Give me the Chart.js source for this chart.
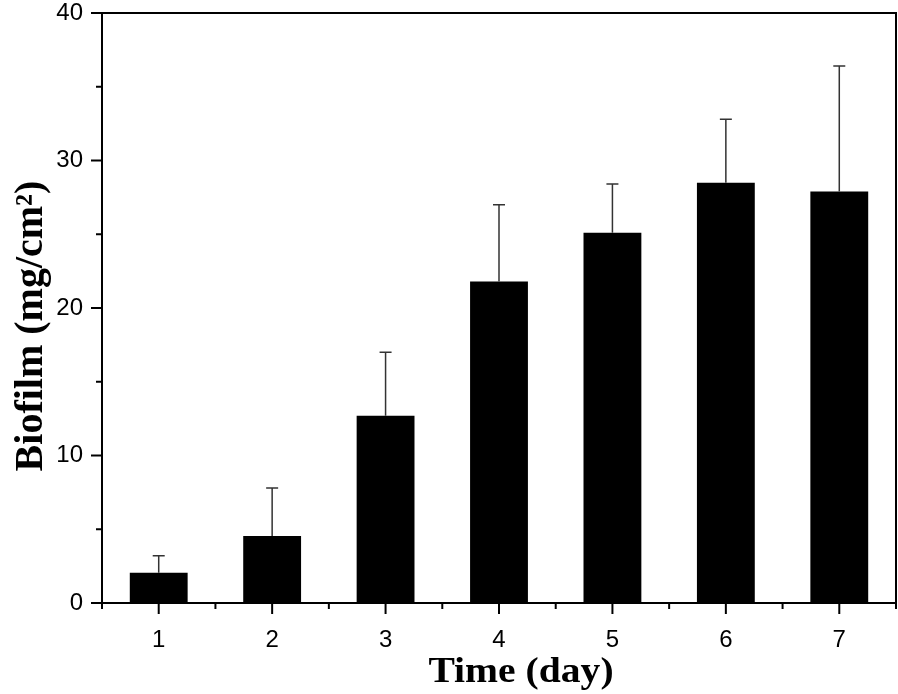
<!DOCTYPE html>
<html lang="en">

<head>
    <meta charset="UTF-8">
    <title>Biofilm</title>
    <style>
        body {
            margin: 0;
            background: #fff;
        }
    </style>
</head>

<body>
    <canvas id="myChart" width="898" height="694"></canvas>
    <script src="https://cdn.jsdelivr.net/npm/chart.js@4/dist/chart.umd.min.js"></script>
    <script>
        // data
        const days = ["1", "2", "3", "4", "5", "6", "7"];
        const biofilm = [2.05, 4.55, 12.7, 21.8, 25.1, 28.5, 27.9];
        const errTop = [3.2, 7.8, 17.0, 27.0, 28.4, 32.8, 36.4];
        const yTicks = [0, 10, 20, 30, 40];
        const xTitle = "Time (day)";
        const yTitle = "Biofilm (mg/cm²)";

        const serif = "'Liberation Serif', 'Times New Roman', serif";

        // error bars, box frame, tick marks and axis titles
        const extras = {
            id: "extras",
            afterDatasetsDraw(chart) {
                const ctx = chart.ctx;
                const x = chart.scales.x;
                const y = chart.scales.y;
                const a = chart.chartArea;
                ctx.save();

                // error bars (upper only)
                ctx.strokeStyle = "#333";
                ctx.lineWidth = 1.5;
                days.forEach((d, i) => {
                    const px = x.getPixelForValue(i);
                    const y0 = y.getPixelForValue(biofilm[i]);
                    const y1 = y.getPixelForValue(errTop[i]);
                    ctx.beginPath();
                    ctx.moveTo(px, y0);
                    ctx.lineTo(px, y1);
                    ctx.moveTo(px - 6, y1);
                    ctx.lineTo(px + 6, y1);
                    ctx.stroke();
                });

                // frame
                ctx.strokeStyle = "#000";
                ctx.lineWidth = 2;
                ctx.strokeRect(a.left, a.top, a.right - a.left, a.bottom - a.top);

                // y ticks
                for (let v = 0; v <= 40; v += 5) {
                    const py = y.getPixelForValue(v);
                    const len = v % 10 === 0 ? 11 : 6;
                    ctx.beginPath();
                    ctx.moveTo(a.left - len, py);
                    ctx.lineTo(a.left, py);
                    ctx.stroke();
                }
                // x ticks
                for (let i = -0.5; i <= days.length - 0.5; i += 0.5) {
                    const px = x.getPixelForValue(i);
                    const len = Number.isInteger(i) ? 11 : 6;
                    ctx.beginPath();
                    ctx.moveTo(px, a.bottom);
                    ctx.lineTo(px, a.bottom + len);
                    ctx.stroke();
                }

                // axis titles
                ctx.fillStyle = "#000";
                ctx.textAlign = "center";
                ctx.textBaseline = "alphabetic";

                ctx.save();
                ctx.translate(521, 682);
                ctx.scale(1.1, 1);
                ctx.font = "bold 36px " + serif;
                ctx.fillText(xTitle, 0, 0);
                ctx.restore();

                ctx.translate(42, 326);
                ctx.rotate(-Math.PI / 2);
                ctx.font = "bold 40px " + serif;
                ctx.fillText(yTitle, 0, 0);
                ctx.restore();
            }
        };

        const myChart = document.getElementById("myChart");
        new Chart(myChart, {
            type: "bar",
            data: {
                labels: days,
                datasets: [{
                    label: "Biofilm",
                    data: biofilm,
                    backgroundColor: "#000",
                    borderWidth: 0,
                    barPercentage: 0.51,
                    categoryPercentage: 1.0
                }]
            },
            options: {
                responsive: false,
                animation: false,
                layout: {
                    padding: { top: 13, right: 2, left: 0, bottom: 0 }
                },
                plugins: {
                    legend: { display: false },
                    tooltip: { enabled: false }
                },
                scales: {
                    x: {
                        offset: true,
                        grid: { display: false },
                        border: { display: false },
                        ticks: {
                            color: "#000",
                            padding: 15,
                            font: { family: "'Liberation Sans', Arial", size: 24 }
                        },
                        afterFit: s => {
                            s.height = 91;
                            s.paddingLeft = 0;
                            s.paddingRight = 0;
                        }
                    },
                    y: {
                        min: 0,
                        max: 40,
                        afterBuildTicks: s => { s.ticks = yTicks.map(v => ({ value: v })); },
                        grid: { display: false },
                        border: { display: false },
                        ticks: {
                            color: "#000",
                            padding: 11,
                            font: { family: "'Liberation Sans', Arial", size: 24 }
                        },
                        afterFit: s => {
                            s.width = 102;
                            s.paddingTop = 0;
                            s.paddingBottom = 0;
                        }
                    }
                }
            },
            plugins: [extras]
        });
    </script>
</body>

</html>
